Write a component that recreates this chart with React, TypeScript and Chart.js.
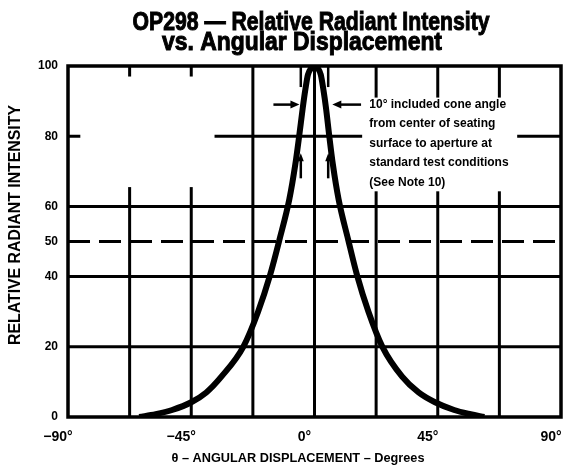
import React, { useEffect, useRef } from "react";
import { Chart, registerables } from "chart.js";

Chart.register(...registerables);

// Curve: relative radiant intensity (%) vs angular displacement (deg)
const angles = [-64, -58, -52, -45, -39.5, -34, -26, -20.6, -16.2, -12.8, -9.2, -7.0, -5.6, -4.3, -3.3, -2.4, -1.3, 0, 1.3, 2.3, 3.2, 4.2, 5.4, 6.7, 8.8, 12.3, 15.5, 19.7, 24.8, 32, 38, 44, 51, 57, 62];
const intensity = [0, 0.8, 2, 4.2, 7, 11.5, 20, 30, 40.5, 50.5, 62, 72, 80, 88, 93.5, 97.5, 99.3, 100, 99.3, 97.5, 93.5, 88, 80, 72, 62, 50.5, 40.5, 30, 20, 11.5, 7, 4.2, 2, 0.8, 0];

const xTickValues = [-90, -45, 0, 45, 90];
const yTickValues = [0, 20, 40, 50, 60, 80, 100];
const xGridValues = [-67.5, -45, -22.5, 0, 22.5, 45, 67.5];
const yGridValues = [20, 40, 60, 80];
const dashedLevels = [50];
// regions of the grid left blank in the original (data coordinates)
const blankX0 = [-85.5, 17.4];
const blankX1 = [-36.5, 74];
const blankY0 = [65.5, 64.3];
const blankY1 = [97, 91];

const coneAngles = [-5, 5];
const coneUpper = [100, 94];
const coneLower = [74, 68];
const arrowLevel = 89;
const arrowFrom = [-15, 17];
const arrowTo = [-5.5, 6.5];
const noteX = 20;
const noteY = 89;
const noteLines = [
  "10° included cone angle",
  "from center of seating",
  "surface to aperture at",
  "standard test conditions",
  "(See Note 10)",
];

const titleLines = ["OP298 — Relative Radiant Intensity", "vs. Angular Displacement"];
const xTitle = "θ – ANGULAR DISPLACEMENT – Degrees";
const yTitle = "RELATIVE RADIANT INTENSITY";

const FONT = "'Liberation Sans', Arial, sans-serif";

const gridPlugin = {
  id: "customGrid",
  beforeDatasetsDraw(chart: any) {
    const { ctx, chartArea, scales } = chart;
    const { left, right, top, bottom } = chartArea;
    const x = scales.x;
    const y = scales.y;
    ctx.save();
    ctx.strokeStyle = "#000";
    ctx.lineWidth = 3;
    xGridValues.forEach((v) => {
      const px = x.getPixelForValue(v);
      ctx.beginPath();
      ctx.moveTo(px, top);
      ctx.lineTo(px, bottom);
      ctx.stroke();
    });
    yGridValues.forEach((v) => {
      const py = y.getPixelForValue(v);
      ctx.beginPath();
      ctx.moveTo(left, py);
      ctx.lineTo(right, py);
      ctx.stroke();
    });
    ctx.setLineDash([22, 9]);
    dashedLevels.forEach((v) => {
      const py = y.getPixelForValue(v);
      ctx.beginPath();
      ctx.moveTo(left, py);
      ctx.lineTo(right, py);
      ctx.stroke();
    });
    ctx.setLineDash([]);
    ctx.fillStyle = "#fff";
    blankX0.forEach((x0, i) => {
      const px0 = x.getPixelForValue(x0);
      const px1 = x.getPixelForValue(blankX1[i]);
      const py0 = y.getPixelForValue(blankY1[i]);
      const py1 = y.getPixelForValue(blankY0[i]);
      ctx.fillRect(px0, py0, px1 - px0, py1 - py0);
    });
    ctx.lineWidth = 3.5;
    ctx.strokeRect(left, top, right - left, bottom - top);
    ctx.restore();
  },
  afterDatasetsDraw(chart: any) {
    const { ctx, scales } = chart;
    const x = scales.x;
    const y = scales.y;
    ctx.save();
    ctx.strokeStyle = "#000";
    ctx.fillStyle = "#000";
    ctx.lineWidth = 2.5;
    // cone marks
    coneAngles.forEach((a) => {
      const px = x.getPixelForValue(a);
      ctx.beginPath();
      ctx.moveTo(px, y.getPixelForValue(coneUpper[0]));
      ctx.lineTo(px, y.getPixelForValue(coneUpper[1]));
      ctx.stroke();
      const pTop = y.getPixelForValue(coneLower[0]);
      ctx.beginPath();
      ctx.moveTo(px, pTop);
      ctx.lineTo(px, y.getPixelForValue(coneLower[1]));
      ctx.stroke();
      ctx.beginPath();
      ctx.moveTo(px, pTop - 4);
      ctx.lineTo(px - 3, pTop + 4);
      ctx.lineTo(px + 3, pTop + 4);
      ctx.closePath();
      ctx.fill();
    });
    // arrows
    const py = y.getPixelForValue(arrowLevel);
    arrowFrom.forEach((f, i) => {
      const p0 = x.getPixelForValue(f);
      const p1 = x.getPixelForValue(arrowTo[i]);
      const dir = p1 > p0 ? 1 : -1;
      ctx.beginPath();
      ctx.moveTo(p0, py);
      ctx.lineTo(p1 - dir * 6, py);
      ctx.stroke();
      ctx.beginPath();
      ctx.moveTo(p1, py);
      ctx.lineTo(p1 - dir * 9, py - 4);
      ctx.lineTo(p1 - dir * 9, py + 4);
      ctx.closePath();
      ctx.fill();
    });
    // note text
    ctx.font = `bold 12px ${FONT}`;
    ctx.textAlign = "left";
    ctx.textBaseline = "middle";
    const tx = x.getPixelForValue(noteX);
    const ty = y.getPixelForValue(noteY);
    noteLines.forEach((line, i) => {
      ctx.fillText(line, tx, ty + i * 19.5);
    });
    ctx.restore();
  },
  afterDraw(chart: any) {
    const { ctx } = chart;
    ctx.save();
    ctx.fillStyle = "#000";
    ctx.strokeStyle = "#000";
    ctx.textAlign = "center";
    // main title (condensed heavy face)
    ctx.textBaseline = "alphabetic";
    ctx.font = `bold 26px ${FONT}`;
    ctx.lineWidth = 1;
    ctx.fillText(titleLines[0], 303, 22, 357);
    ctx.strokeText(titleLines[0], 303, 22, 357);
    ctx.fillText(titleLines[1], 294, 42, 280);
    ctx.strokeText(titleLines[1], 294, 42, 280);
    // x axis title
    ctx.textBaseline = "middle";
    ctx.font = `bold 13px ${FONT}`;
    ctx.fillText(xTitle, 290, 450, 253);
    // y axis title
    ctx.translate(8, 217);
    ctx.rotate(-Math.PI / 2);
    ctx.font = `bold 16px ${FONT}`;
    ctx.fillText(yTitle, 0, 0, 240);
    ctx.restore();
  },
};

export default function App() {
  const canvasRef = useRef<HTMLCanvasElement | null>(null);

  useEffect(() => {
    if (!canvasRef.current) return;
    const chart = new Chart(canvasRef.current, {
      type: "scatter",
      data: {
        datasets: [
          {
            data: angles.map((a, i) => ({ x: a, y: intensity[i] })),
            showLine: true,
            borderColor: "#000",
            borderWidth: 6,
            pointRadius: 0,
            cubicInterpolationMode: "monotone",
            fill: false,
          },
        ],
      },
      options: {
        animation: false,
        responsive: true,
        maintainAspectRatio: false,
        layout: { padding: { left: 0, right: 6, top: 58, bottom: 0 } },
        plugins: {
          legend: { display: false },
          tooltip: { enabled: false },
          title: { display: false },
        },
        scales: {
          x: {
            type: "linear",
            min: -90,
            max: 90,
            afterBuildTicks: (s: any) => {
              s.ticks = xTickValues.map((v) => ({ value: v }));
            },
            afterFit: (s: any) => {
              s.height = 48;
              s.paddingLeft = 0;
              s.paddingRight = 0;
            },
            grid: { display: false, drawTicks: false },
            border: { display: false },
            ticks: {
              color: "#000",
              font: { family: FONT, size: 14, weight: "bold" },
              padding: 12,
              labelOffset: -10,
              maxRotation: 0,
              callback: (v: any) => (v < 0 ? "−" + Math.abs(v) : String(v)) + "°",
            },
            title: { display: false },
          },
          y: {
            type: "linear",
            min: 0,
            max: 100,
            afterBuildTicks: (s: any) => {
              s.ticks = yTickValues.map((v) => ({ value: v }));
            },
            afterFit: (s: any) => {
              s.width = 60;
            },
            grid: { display: false, drawTicks: false },
            border: { display: false },
            ticks: {
              color: "#000",
              font: { family: FONT, size: 12, weight: "bold" },
              padding: 10,
            },
            title: { display: false },
          },
        },
      },
      plugins: [gridPlugin],
    } as any);
    return () => chart.destroy();
  }, []);

  return (
    <div style={{ position: "relative", width: 559, height: 457 }}>
      <canvas ref={canvasRef} />
    </div>
  );
}
